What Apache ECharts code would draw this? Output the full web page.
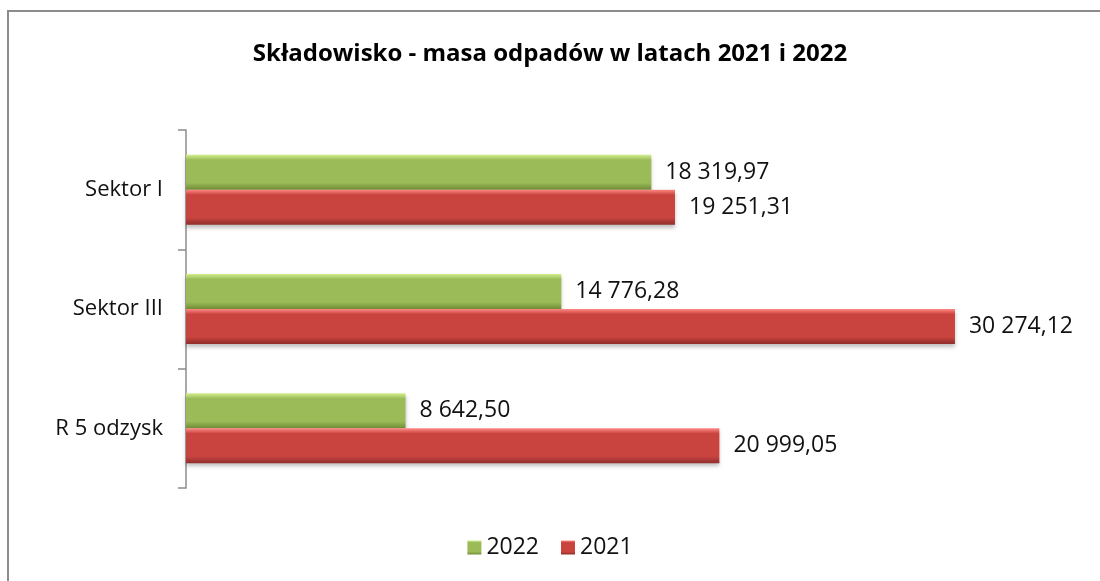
<!DOCTYPE html>
<html>
<head>
<meta charset="utf-8">
<script src="https://cdn.jsdelivr.net/npm/echarts@6/dist/echarts.min.js"></script>
<style>
  html, body { margin: 0; padding: 0; background: #fff; }
  #chart { width: 1100px; height: 581px; }
</style>
</head>
<body>
<div id="chart"></div>
<script>
const categories = ['Sektor I', 'Sektor III', 'R 5 odzysk']
const values2022 = [18319.97, 14776.28, 8642.5]
const values2021 = [19251.31, 30274.12, 20999.05]
const seriesNames = ['2022', '2021']

const font = '"Open Sans", "Liberation Sans", sans-serif'

// 18319.97 -> "18 319,97"
function fmt(v) {
  const parts = v.toFixed(2).split('.')
  const int = parts[0].replace(/\B(?=(\d{3})+(?!\d))/g, ' ')
  return int + ',' + parts[1]
}

function grad(top, mid, bottom) {
  return {
    type: 'linear', x: 0, y: 0, x2: 0, y2: 1,
    colorStops: [
      { offset: 0, color: top },
      { offset: 0.15, color: mid },
      { offset: 0.8, color: mid },
      { offset: 1, color: bottom }
    ]
  }
}
const green = grad('#d2ef8e', '#9bbb59', '#6f8c35')
const red = grad('#ff8a85', '#c9433f', '#8e2e2c')

const labelStyle = {
  show: true,
  position: 'right',
  distance: 14,
  fontFamily: font,
  fontSize: 23,
  color: '#111',
  formatter: p => fmt(p.value)
}

const chart = echarts.init(document.getElementById('chart'))
chart.setOption({
  animation: false,
  title: {
    text: 'Składowisko - masa odpadów w latach 2021 i 2022',
    left: 'center',
    top: 37,
    textStyle: { fontFamily: font, fontSize: 24, fontWeight: 'bold', color: '#000' }
  },
  graphic: [{
    type: 'rect',
    shape: { x: 8, y: 11, width: 1300, height: 800 },
    style: { fill: 'none', stroke: '#8c8c8c', lineWidth: 2 },
    silent: true
  }],
  legend: {
    bottom: 17,
    left: 'center',
    itemWidth: 14,
    itemHeight: 14,
    itemGap: 22,
    icon: 'rect',
    textStyle: { fontFamily: font, fontSize: 23, color: '#111' },
    data: seriesNames
  },
  grid: { left: 186, right: 25, top: 130, bottom: 93 },
  xAxis: {
    type: 'value',
    min: 0,
    max: 35000,
    show: false
  },
  yAxis: {
    type: 'category',
    inverse: true,
    data: categories,
    axisLine: { lineStyle: { color: '#8c8c8c', width: 1.5 } },
    axisTick: { show: true, length: 8, lineStyle: { color: '#8c8c8c', width: 1.5 } },
    axisLabel: { fontFamily: font, fontSize: 22, color: '#111', margin: 23 }
  },
  series: [
    {
      name: seriesNames[0],
      type: 'bar',
      data: values2022,
      barWidth: 35,
      barGap: '0%',
      itemStyle: {
        color: green,
        shadowBlur: 4,
        shadowOffsetY: 3,
        shadowColor: 'rgba(0,0,0,0.25)'
      },
      label: labelStyle
    },
    {
      name: seriesNames[1],
      type: 'bar',
      data: values2021,
      barWidth: 35,
      barGap: '0%',
      itemStyle: {
        color: red,
        shadowBlur: 4,
        shadowOffsetY: 3,
        shadowColor: 'rgba(0,0,0,0.25)'
      },
      label: labelStyle
    }
  ]
})
</script>
</body>
</html>
